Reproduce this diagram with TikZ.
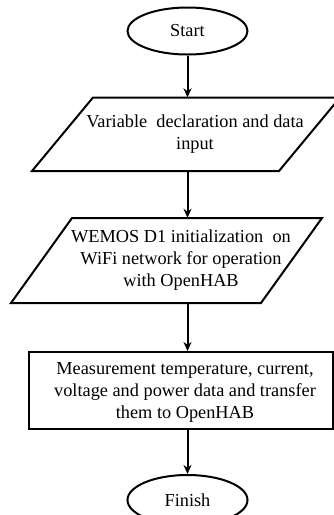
\documentclass[tikz,border=0pt]{standalone}
\usepackage{fontspec}
\setmainfont{Liberation Serif}
\usetikzlibrary{shapes.geometric,arrows.meta}
\begin{document}
\begin{tikzpicture}[x=1pt,y=-1pt,
  every node/.style={font=\fontsize{18.3}{22}\selectfont},
  term/.style={ellipse,draw,line width=2pt,minimum width=120pt,minimum height=47pt,inner sep=0pt},
  txt/.style={align=center,inner sep=0pt},
  shp/.style={draw,line width=2pt},
  conn/.style={line width=2pt,-{Stealth[length=9pt,width=8pt]}}]
\useasboundingbox (0,0) rectangle (334,515);
\clip (0,0) rectangle (334,515);
% Start
\node[term] (start) at (187.5,31) {Start};
% Parallelogram 1
\draw[shp] (93,97.5) -- (340,97.5) -- (279,171) -- (32,171) -- cycle;
\node[txt, minimum height=73.5pt] (p1) at (195,134.25) {Variable\ \ declaration and data\\input};
% Parallelogram 2
\draw[shp] (72,218) -- (322,218) -- (261,303) -- (11,303) -- cycle;
\node[txt, minimum height=85pt] (p2) at (181,260.5) {WEMOS D1 initialization\ \ on\\WiFi network for operation\\with OpenHAB};
% Rectangle
\node[shp, txt, minimum width=304pt, minimum height=77pt] (r) at (181,390.5) {};
\node[txt] (rt) at (185,392) {Measurement temperature, current,\\voltage and power data and transfer\\them to OpenHAB};
% Finish
\node[term, minimum height=50pt] (finish) at (187.5,500) {Finish};
% Connectors
\draw[conn] (start.south) -- (start.south |- p1.north);
\draw[conn] (start.south |- p1.south) -- (start.south |- p2.north);
\draw[conn] (start.south |- p2.south) -- (start.south |- r.north);
\draw[conn] (start.south |- r.south) -- (finish.north);
\end{tikzpicture}
\end{document}
